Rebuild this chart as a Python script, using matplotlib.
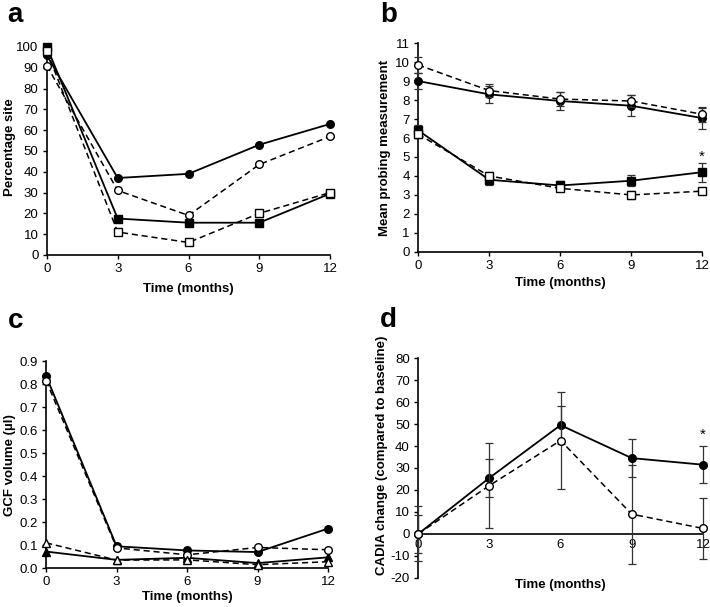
import numpy as np
import matplotlib.pyplot as plt

plt.rcParams['font.family'] = ['Liberation Sans', 'DejaVu Sans']
plt.rcParams['axes.unicode_minus'] = False

months = [0, 3, 6, 9, 12]

# panel a: percentage site
a_fc = [96, 37, 39, 53, 63]
a_oc = [91, 31, 19, 43.5, 57]
a_fs = [100, 17.5, 15.5, 15.5, 29.5]
a_os = [98, 11, 6, 20, 30]

# panel b: mean probing measurement (+/- error)
b_oc = [9.85, 8.5, 8.05, 7.95, 7.25]
b_oc_err = [0.4, 0.35, 0.35, 0.3, 0.4]
b_fc = [9.0, 8.3, 7.95, 7.7, 7.05]
b_fc_err = [0.4, 0.45, 0.45, 0.55, 0.55]
b_fs = [6.4, 3.8, 3.5, 3.75, 4.2]
b_fs_err = [0.3, 0.25, 0.25, 0.3, 0.5]
b_os = [6.2, 4.0, 3.35, 3.0, 3.2]
b_os_err = [0.2, 0.2, 0.15, 0.2, 0.15]

# panel c: GCF volume
c_fc = [0.835, 0.095, 0.077, 0.07, 0.172]
c_oc = [0.815, 0.088, 0.058, 0.09, 0.08]
c_ft = [0.072, 0.036, 0.045, 0.022, 0.047]
c_ot = [0.11, 0.035, 0.036, 0.015, 0.028]

# panel d: CADIA change
d_fc = [0, 25.5, 49.5, 34.5, 31.5]
d_fc_err = [8.5, 8.5, 8.5, 8.5, 8.5]
d_oc = [0, 22, 42.5, 9, 2.5]
d_oc_err = [12.5, 19.5, 22, 22.5, 14]

fig = plt.figure(figsize=(7.1, 6.07), dpi=100)
ax_a = fig.add_axes([0.066, 0.580, 0.399, 0.3426])
ax_b = fig.add_axes([0.589, 0.585, 0.400, 0.344])
ax_c = fig.add_axes([0.065, 0.064, 0.397, 0.341])
ax_d = fig.add_axes([0.589, 0.048, 0.401, 0.362])

ms = 5.5
solid = dict(color='black', lw=1.3, clip_on=False, zorder=3)
dash = dict(color='black', lw=1.1, ls=(0, (4, 2.5)), clip_on=False, zorder=4)

def style(ax, ylim, yticks, ylabel, ylab_xy, xlab_y):
    for s in ['top', 'right']:
        ax.spines[s].set_visible(False)
    ax.spines['left'].set_linewidth(1.2)
    ax.spines['bottom'].set_linewidth(1.2)
    ax.set_xlim(0, 12)
    ax.set_xticks(months)
    ax.set_ylim(*ylim)
    ax.set_yticks(yticks)
    ax.tick_params(labelsize=9.5, length=3, width=1, pad=3)
    ax.set_ylabel(ylabel, fontsize=9.5, fontweight='bold')
    ax.yaxis.set_label_coords(*ylab_xy)
    ax.set_xlabel('Time (months)', fontsize=9.5, fontweight='bold')
    ax.xaxis.set_label_coords(0.5, xlab_y)

# a
ax_a.plot(months, a_os, marker='s', mfc='white', mec='black', ms=ms, **dash)
ax_a.plot(months, a_fs, marker='s', mfc='black', mec='black', ms=ms, **solid)
ax_a.plot(months, a_oc, marker='o', mfc='white', mec='black', ms=ms, **dash)
ax_a.plot(months, a_fc, marker='o', mfc='black', mec='black', ms=ms, **solid)
style(ax_a, (0, 100), np.arange(0, 101, 10), 'Percentage site', (-0.108, 0.52), -0.135)

# b
eb = dict(capsize=3, elinewidth=0.9, capthick=0.9, ecolor='#333333')
ax_b.errorbar(months, b_oc, yerr=b_oc_err, marker='o', mfc='white', mec='black', ms=ms, **eb, **dash)
ax_b.errorbar(months, b_fc, yerr=b_fc_err, marker='o', mfc='black', mec='black', ms=ms, **eb, **solid)
ax_b.errorbar(months, b_os, yerr=b_os_err, marker='s', mfc='white', mec='black', ms=ms, **eb, **dash)
ax_b.errorbar(months, b_fs, yerr=b_fs_err, marker='s', mfc='black', mec='black', ms=ms, **eb, **solid)
ax_b.text(12, 5.0, '*', ha='center', va='center', fontsize=11)
style(ax_b, (0, 11), np.arange(0, 12, 1), 'Mean probing measurement', (-0.095, 0.5), -0.12)

# c
ax_c.plot(months, c_oc, marker='o', mfc='white', mec='black', ms=ms, **dash)
ax_c.plot(months, c_fc, marker='o', mfc='black', mec='black', ms=ms, **solid)
ax_c.plot(months, c_ot, marker='^', mfc='white', mec='black', ms=ms, **dash)
ax_c.plot(months, c_ft, marker='^', mfc='black', mec='black', ms=ms, **solid)
style(ax_c, (0, 0.9), np.arange(0, 0.91, 0.1), 'GCF volume (µl)', (-0.106, 0.5), -0.111)
ax_c.set_yticklabels([f'{v:.1f}' for v in np.arange(0, 0.91, 0.1)])

# d
ax_d.errorbar(months, d_oc, yerr=d_oc_err, marker='o', mfc='white', mec='black', ms=ms, **eb, **dash)
ax_d.errorbar(months, d_fc, yerr=d_fc_err, marker='o', mfc='black', mec='black', ms=ms, **eb, **solid)
ax_d.text(12, 45, '*', ha='center', va='center', fontsize=11)
style(ax_d, (-20, 80), np.arange(-20, 81, 10), 'CADIA change (compared to baseline)', (-0.105, 0.56), -0.005)
ax_d.spines['bottom'].set_position(('data', 0))
ax_d.tick_params(axis='x', length=0, pad=4)

# panel letters
for (x, y), lab in [((0.01, 0.9638), 'a'), ((0.535, 0.9638), 'b'),
                    ((0.011, 0.4596), 'c'), ((0.535, 0.461), 'd')]:
    fig.text(x, y, lab, fontsize=20, fontweight='bold', ha='left', va='baseline')

fig.savefig('out.png', dpi=100)
